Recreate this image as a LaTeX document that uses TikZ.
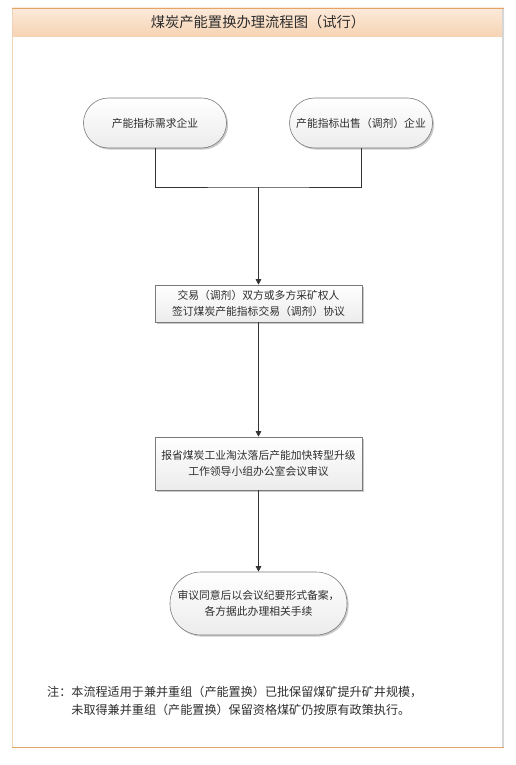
\documentclass[tikz,border=0pt]{standalone}
\usepackage{fontspec}
\setmainfont{Noto Sans CJK SC}
\usetikzlibrary{shadows,arrows.meta}
\definecolor{bandtop}{HTML}{FCEADA}
\definecolor{bandbot}{HTML}{F6D3B2}
\definecolor{orangeline}{HTML}{E3A468}
\definecolor{tanline}{HTML}{EFD3B6}
\definecolor{grayline}{HTML}{D6D6D6}
\definecolor{boxline}{HTML}{7A7A7A}
\definecolor{txt}{HTML}{2E2E2E}
\definecolor{boxbot}{HTML}{ECECEC}
\tikzset{
  boxbase/.style={draw=boxline, line width=0.6bp, top color=white, bottom color=boxbot,
    text=txt, align=center, inner sep=0pt,
    drop shadow={shadow xshift=1.6bp, shadow yshift=-1.6bp, opacity=0.35, fill=black!60},
    font=\fontsize{10.8bp}{16.5bp}\selectfont},
  term/.style={boxbase, rectangle, rounded corners=#1},
  procbox/.style={boxbase, rectangle},
  conn/.style={draw=black!80, line width=0.8bp},
  arr/.style={conn, -{Triangle[width=5.5bp,length=5.5bp]}}
}
\begin{document}
\begin{tikzpicture}[x=1bp,y=-1bp]
\useasboundingbox (0,0) rectangle (516,765);
% frame
\fill[white] (12,8) rectangle (504,748);
\shade[top color=bandtop, bottom color=bandbot] (12,8) rectangle (504,37);
\draw[tanline, line width=1.2bp] (12.6,8) -- (12.6,748);
\draw[grayline, line width=1.6bp] (503.2,8) -- (503.2,748);
\draw[orangeline, line width=1.2bp] (12,8.6) -- (504,8.6);
\draw[orangeline, line width=1.2bp] (12,747.6) -- (504,747.6);
\node[text=txt, font=\fontsize{14.3bp}{16bp}\selectfont] (title) at (258,22) {煤炭产能置换办理流程图（试行）};
% nodes
\node[term=25bp, minimum width=143bp, minimum height=50bp] (t1) at (155,123) {产能指标需求企业};
\node[term=25bp, minimum width=143bp, minimum height=50bp] (t2) at (361,123) {产能指标出售（调剂）企业};
\node[procbox, minimum width=207bp, minimum height=37bp] (b2) at (258.5,303.5) {交易（调剂）双方或多方采矿权人\\签订煤炭产能指标交易（调剂）协议};
\node[procbox, minimum width=207bp, minimum height=53bp, font=\fontsize{10.8bp}{15.5bp}\selectfont] (b3) at (258.5,463.5) {报省煤炭工业淘汰落后产能加快转型升级\\工作领导小组办公室会议审议};
\node[term=31bp, minimum width=177bp, minimum height=63bp] (t3) at (258.5,603.5) {审议同意后以会议纪要形式备案，\\各方据此办理相关手续};
% connectors
\coordinate (j) at (258.5,187);
\draw[conn] (t1.south) |- (j) -| (t2.south);
\draw[arr] (j) -- (b2.north);
\draw[arr] (b2.south) -- (b3.north);
\draw[arr] (b3.south) -- (t3.north);
% note
\node[anchor=north west, inner sep=0pt, align=left, text=txt, font=\fontsize{12.1bp}{18bp}\selectfont] (note) at (47,686)
  {注：本流程适用于兼并重组（产能置换）已批保留煤矿提升矿井规模，\\\hspace*{2em}未取得兼并重组（产能置换）保留资格煤矿仍按原有政策执行。};
\end{tikzpicture}
\end{document}
